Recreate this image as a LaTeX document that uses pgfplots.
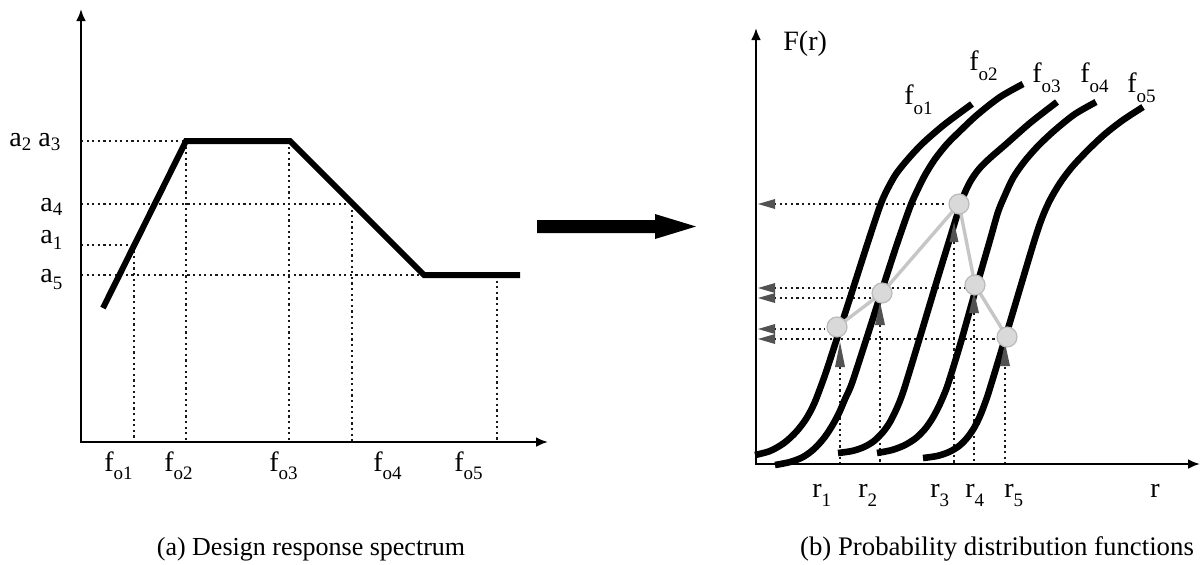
\documentclass[border=0pt]{standalone}
\usepackage{fontspec}
\setmainfont{Liberation Serif}
\usepackage{pgfplots}
\pgfplotsset{compat=1.18}
\usetikzlibrary{arrows.meta}
\newcommand{\lab}{\fontsize{14}{16}\selectfont}
\newcommand{\capt}{\fontsize{13}{15}\selectfont}
\newcommand{\dsub}[2][4pt]{\raisebox{-#1}{\fontsize{9.5}{11}\selectfont #2}}
\begin{document}
\begin{tikzpicture}
\path (0,0) rectangle (601.5pt,282pt);
\pgfplotsset{
  panel/.style={hide axis, scale only axis, y dir=reverse, ymin=0, ymax=564,
    height=282pt, clip=false, anchor=south west},
  guide/.style={black!90, line width=1.25pt, dash pattern=on 1.1pt off 1.7pt},
  axisline/.style={black, line width=1.3pt, -{Latex[length=6pt,width=5pt]}},
  curve/.style={black, line width=3.3pt, smooth, tension=0.5},
  tri/.style={fill=black!68, draw=none},
}
% ---------------- (a) Design response spectrum ----------------
\begin{axis}[panel, xmin=0, xmax=600, width=300pt, at={(0pt,0pt)}]
\addplot[guide] coordinates {(81,141) (186,141)};
\addplot[guide] coordinates {(81,204) (353,204)};
\addplot[guide] coordinates {(81,245) (134,245)};
\addplot[guide] coordinates {(81,275) (424,275)};
\addplot[guide] coordinates {(134,245) (134,442)};
\addplot[guide] coordinates {(186,141) (186,442)};
\addplot[guide] coordinates {(289,141) (289,442)};
\addplot[guide] coordinates {(352,204) (352,442)};
\addplot[guide] coordinates {(497,275) (497,442)};
\addplot[black, line width=3pt] coordinates {(103,308) (186,141) (290,141) (424,275) (520,275)};
\addplot[axisline] coordinates {(81,442) (81,9)};
\addplot[axisline] coordinates {(80,442) (548,442)};
\addplot[fill=black, draw=none] coordinates {(537,220) (655,220) (655,214) (696,226.5) (655,239) (655,233) (537,233)} --cycle;
\node[anchor=base west, font=\lab, inner sep=0pt] at (axis cs:9,146) {a\dsub[2pt]{2} a\dsub[2pt]{3}};
\node[anchor=base west, font=\lab, inner sep=0pt] at (axis cs:40,211) {a\dsub[2pt]{4}};
\node[anchor=base west, font=\lab, inner sep=0pt] at (axis cs:40,243) {a\dsub[3pt]{1}};
\node[anchor=base west, font=\lab, inner sep=0pt] at (axis cs:40,282) {a\dsub[3.5pt]{5}};
\node[anchor=base west, font=\lab, inner sep=0pt] at (axis cs:104,471) {f\dsub{o1}};
\node[anchor=base west, font=\lab, inner sep=0pt] at (axis cs:164,471) {f\dsub{o2}};
\node[anchor=base west, font=\lab, inner sep=0pt] at (axis cs:269,471) {f\dsub{o3}};
\node[anchor=base west, font=\lab, inner sep=0pt] at (axis cs:373,471) {f\dsub{o4}};
\node[anchor=base west, font=\lab, inner sep=0pt] at (axis cs:454,471) {f\dsub{o5}};
\node[anchor=base, font=\capt, inner sep=0pt] at (axis cs:311,555) {(a) Design response spectrum};
\end{axis}
% ---------------- (b) Probability distribution functions ----------------
\begin{axis}[panel, xmin=600, xmax=1203, width=301.5pt, at={(300pt,0pt)}]
% horizontal guides with left-pointing heads
\addplot[guide] coordinates {(774,204) (945,204)};
\addplot[guide] coordinates {(774,288) (967,288)};
\addplot[guide] coordinates {(774,298) (872,298)};
\addplot[guide] coordinates {(774,329) (825,329)};
\addplot[guide] coordinates {(774,339) (997,339)};
\addplot[tri] coordinates {(758,204) (775,199) (775,209)} --cycle;
\addplot[tri] coordinates {(758,288) (775,283) (775,293)} --cycle;
\addplot[tri] coordinates {(758,298) (775,293) (775,303)} --cycle;
\addplot[tri] coordinates {(758,329) (775,324) (775,334)} --cycle;
\addplot[tri] coordinates {(758,339) (775,334) (775,344)} --cycle;
% vertical guides
\addplot[guide] coordinates {(840,367) (840,464)};
\addplot[guide] coordinates {(880,325) (880,464)};
\addplot[guide] coordinates {(954,242) (954,464)};
\addplot[guide] coordinates {(974,313) (974,464)};
\addplot[guide] coordinates {(1005,367) (1005,464)};
% distribution curves
\addplot[curve] coordinates {(755,455) (770,451) (784,443) (796,432) (806,419) (814,404) (821,386) (828,366) (850,298) (867,245) (880,206) (887,190) (896,174) (908,159) (923,143) (945,124) (972,104)};
\addplot[curve] coordinates {(775,465) (790,462) (803,457) (814,449) (824,438) (832,426) (839,413) (845,399) (852,383) (867,337) (882,290) (897,244) (910,207) (917,191) (925,175) (935,159) (947,144) (960,131) (977,115) (1000,97) (1023,84)};
\addplot[curve] coordinates {(838,453) (852,451) (864,447) (874,441) (883,432) (890,422) (896,410) (901,398) (906,383) (920,337) (935,287) (950,238) (962,200) (970,182) (979,169) (990,158) (1005,145) (1030,123) (1057,102)};
\addplot[curve] coordinates {(877,453) (892,450) (905,445) (916,438) (925,429) (932,419) (938,408) (943,397) (948,384) (960,345) (975,292) (990,240) (998,212) (1005,195) (1013,178) (1024,162) (1038,146) (1055,130) (1075,114) (1096,102)};
\addplot[curve] coordinates {(923,458) (937,456) (949,452) (959,446) (967,438) (974,428) (980,416) (985,403) (990,388) (1010,322) (1033,245) (1042,218) (1050,200) (1060,183) (1072,167) (1088,150) (1105,134) (1123,120) (1143,107)};
% axes
\addplot[axisline] coordinates {(756,464) (756,28)};
\addplot[axisline] coordinates {(755,464) (1200,464)};
% connecting path and points
\addplot[gray!45, line width=1.7pt] coordinates {(837,327) (882,293) (959,204) (975,285) (1007,337)};
\addplot[only marks, mark=*, mark size=5pt, mark options={fill=gray!30, draw=gray!55, line width=0.6pt}] coordinates {(837,327) (882,293) (959,204) (975,285) (1007,337)};
% upward triangles
\addplot[tri] coordinates {(835,367) (845,367) (840,342)} --cycle;
\addplot[tri] coordinates {(875,325) (885,325) (880,302)} --cycle;
\addplot[tri] coordinates {(949.5,242) (958.5,242) (954,222)} --cycle;
\addplot[tri] coordinates {(969,313) (979,313) (974,292)} --cycle;
\addplot[tri] coordinates {(1000,366) (1010,366) (1005,343)} --cycle;
% labels
\node[anchor=base west, font=\lab, inner sep=0pt] at (axis cs:783,50) {F(r)};
\node[anchor=base west, font=\lab, inner sep=0pt] at (axis cs:904,104) {f\dsub[5pt]{o1}};
\node[anchor=base west, font=\lab, inner sep=0pt] at (axis cs:969,70) {f\dsub[5pt]{o2}};
\node[anchor=base west, font=\lab, inner sep=0pt] at (axis cs:1032,82) {f\dsub[5pt]{o3}};
\node[anchor=base west, font=\lab, inner sep=0pt] at (axis cs:1080,82) {f\dsub[5pt]{o4}};
\node[anchor=base west, font=\lab, inner sep=0pt] at (axis cs:1127,92) {f\dsub[5pt]{o5}};
\node[anchor=base west, font=\lab, inner sep=0pt] at (axis cs:812,497) {r\dsub[4.5pt]{1}};
\node[anchor=base west, font=\lab, inner sep=0pt] at (axis cs:858,497) {r\dsub[4.5pt]{2}};
\node[anchor=base west, font=\lab, inner sep=0pt] at (axis cs:930,497) {r\dsub[4.5pt]{3}};
\node[anchor=base west, font=\lab, inner sep=0pt] at (axis cs:965,497) {r\dsub[4.5pt]{4}};
\node[anchor=base west, font=\lab, inner sep=0pt] at (axis cs:1004,497) {r\dsub[4.5pt]{5}};
\node[anchor=base west, font=\lab, inner sep=0pt] at (axis cs:1150,497) {r};
\node[anchor=base, font=\fontsize{13.4}{15}\selectfont, inner sep=0pt] at (axis cs:997,555) {(b) Probability distribution functions};
\end{axis}
\end{tikzpicture}
\end{document}
